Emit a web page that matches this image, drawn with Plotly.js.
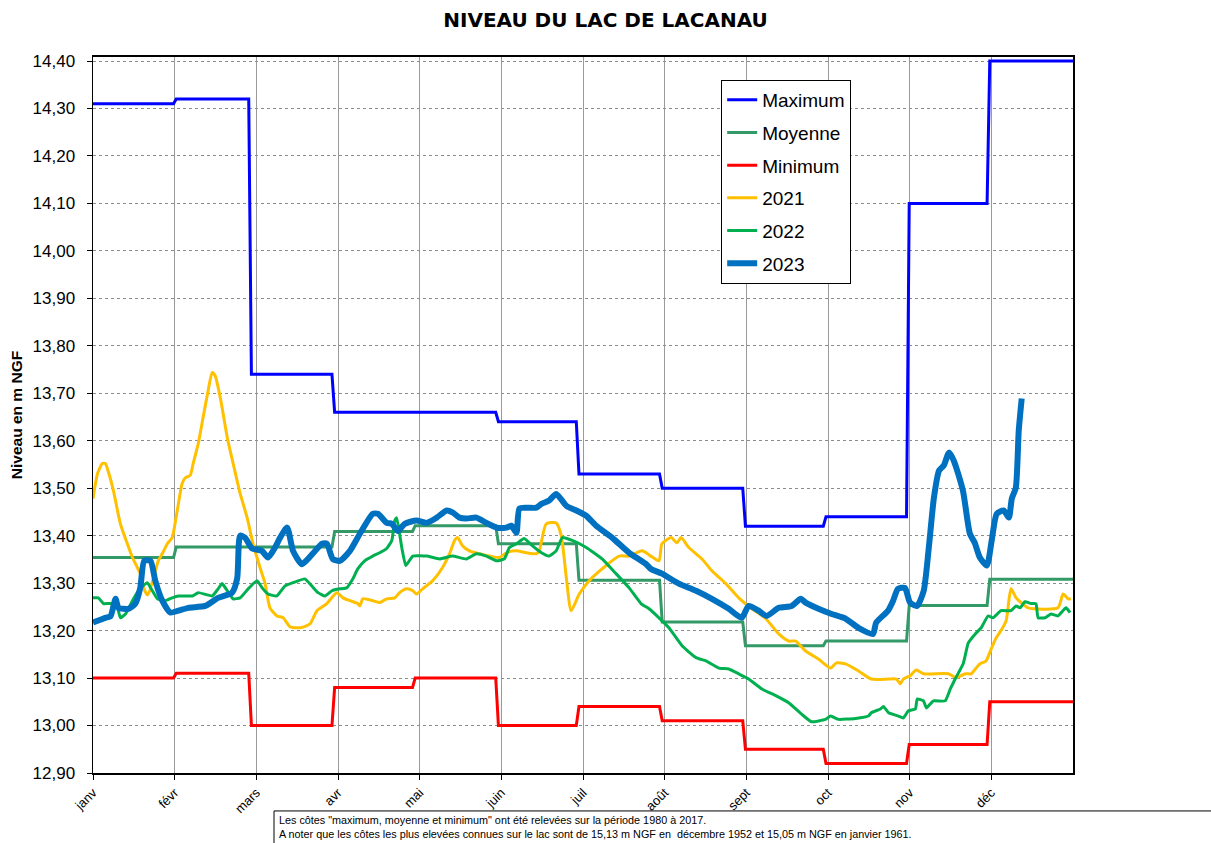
<!DOCTYPE html>
<html>
<head>
<meta charset="utf-8">
<script src="https://cdn.plot.ly/plotly-3.0.1.min.js"></script>
<style>html,body{margin:0;padding:0;background:#fff;}#chart{width:1211px;height:843px;}</style>
</head>
<body>
<div id="chart"></div>
<script>
// Month labels and month start days (day of year, 0-based)
const monthLabels = ["janv","févr","mars","avr","mai","juin","juil","août","sept","oct","nov","déc"];
const monthStarts = [0,31,59,90,120,151,181,212,243,273,304,334,365];

// Monthly reference levels 1980-2017 (m NGF)
const maximum = [14.31,14.32,13.74,13.66,13.66,13.64,13.53,13.50,13.42,13.44,14.10,14.40];
const moyenne = [13.354,13.376,13.376,13.409,13.421,13.383,13.306,13.218,13.168,13.178,13.253,13.308];
const minimum = [13.10,13.11,13.00,13.08,13.10,13.00,13.04,13.01,12.95,12.92,12.96,13.05];

// Yearly readings: day of year and level
const days2021 = [0,1.7,3.5,4.6,5.8,7.6,10.2,12.8,14.7,16.5,17.6,18.8,20.4,22.5,24.3,25.8,27.7,29.5,30.6,31.8,33.2,34.4,36.2,37.3,39.2,41,42.9,44.4,45.5,47.4,50,52.2,54.8,57.4,59.6,62.2,64.1,65.9,68.5,70.8,73.4,77.1,80.8,83.4,87.1,90.8,93.1,95.7,98.6,99.4,100.5,104.2,106.8,109.4,112.4,114.2,116.8,119.1,120.5,122.8,126.5,130.2,132.8,134.7,135.8,137.6,140.2,143.9,147.7,151.4,154,157.7,161.4,165.1,166.2,168.8,172.5,174.4,176.3,178.1,181.1,184.8,189.6,195.9,199.7,204.5,207.8,210.8,211.9,215.3,217.5,219,221.9,226.8,230.5,235.7,240.5,245.4,250.6,255.4,259.1,261.7,265.4,270.2,274.7,276.9,280.3,285.1,289.9,296.3,299.2,300.7,301.8,304.4,306.6,309.3,318.6,321.5,324.9,327.1,328.6,330.4,332.6,334.5,336.4,338.2,340.1,341.9,343.8,345.7,348.3,359.4,361.3,363.2,364.2];
const level2021 = [13.478,13.531,13.552,13.552,13.533,13.495,13.425,13.383,13.354,13.333,13.32,13.29,13.275,13.31,13.347,13.362,13.383,13.396,13.427,13.467,13.51,13.522,13.527,13.552,13.594,13.649,13.706,13.744,13.737,13.691,13.607,13.552,13.489,13.438,13.383,13.333,13.299,13.248,13.231,13.227,13.208,13.206,13.214,13.242,13.257,13.28,13.269,13.263,13.257,13.252,13.267,13.263,13.259,13.267,13.269,13.28,13.288,13.284,13.277,13.288,13.305,13.333,13.362,13.39,13.396,13.379,13.368,13.362,13.357,13.354,13.364,13.368,13.364,13.362,13.368,13.425,13.427,13.40,13.311,13.242,13.277,13.305,13.33,13.357,13.357,13.368,13.357,13.347,13.383,13.396,13.385,13.396,13.375,13.351,13.326,13.299,13.269,13.246,13.225,13.193,13.178,13.178,13.157,13.14,13.121,13.132,13.13,13.115,13.098,13.098,13.098,13.088,13.098,13.105,13.117,13.109,13.109,13.101,13.109,13.109,13.119,13.13,13.136,13.161,13.185,13.20,13.221,13.288,13.269,13.259,13.248,13.248,13.277,13.267,13.267];

const days2022 = [0,2,3.9,6.5,9.1,10.2,12.1,14.7,16.9,20.2,22.1,24,26.9,29.5,31.8,37,39.2,44.4,46.6,48.1,50,52.2,54.8,57.8,61.1,63,65.2,68.5,71.5,74.5,78.9,81.5,83.8,86.4,89,91.9,94.5,96.8,98.6,101.2,104.2,106.8,109.4,111.3,112.4,113.1,115,116.5,119.1,124.3,129.1,133.9,139.1,142.8,146.5,150.3,153.2,155.1,157.7,160.6,163.6,167,169.9,172.5,174.8,178.5,183.7,189.6,194.8,199.7,204.1,207.1,210.8,214.5,219.4,224.6,228.3,233.1,236.8,240.5,244.2,249.1,254.3,259.1,263.9,267.6,272.8,274.7,277.7,284,288.8,289.9,293.3,294.4,296.3,300,301.8,303.7,306.3,307,309.3,310.4,313,317.4,319.3,321.1,324.1,326,328.6,330.8,333.4,335.2,338.2,341.9,343.8,345.3,347.1,349.4,351.2,352,354.6,356.8,359.4,362.4,363.9];
const level2022 = [13.269,13.269,13.257,13.257,13.248,13.227,13.235,13.263,13.284,13.301,13.284,13.267,13.263,13.269,13.273,13.273,13.28,13.273,13.288,13.299,13.284,13.267,13.269,13.288,13.305,13.29,13.277,13.273,13.294,13.301,13.309,13.294,13.28,13.273,13.284,13.288,13.29,13.309,13.33,13.347,13.357,13.364,13.373,13.39,13.432,13.438,13.375,13.337,13.357,13.357,13.351,13.357,13.351,13.362,13.357,13.347,13.351,13.375,13.383,13.394,13.379,13.364,13.357,13.368,13.396,13.39,13.375,13.351,13.32,13.29,13.257,13.246,13.227,13.206,13.168,13.143,13.136,13.121,13.119,13.109,13.098,13.077,13.063,13.048,13.024,13.008,13.013,13.02,13.013,13.015,13.02,13.027,13.035,13.04,13.027,13.02,13.016,13.031,13.035,13.056,13.052,13.037,13.052,13.052,13.077,13.098,13.13,13.174,13.193,13.206,13.231,13.227,13.242,13.242,13.252,13.248,13.261,13.257,13.257,13.227,13.227,13.235,13.231,13.248,13.238];

const days2023 = [0,4.6,6.5,8.4,9.5,13.2,15.8,17.6,19.1,21.4,23.2,25.8,28.8,31.8,35.5,41.8,46.6,51.8,53.7,54.8,56.6,59.3,62.9,65.2,67.8,69.7,72.3,74.5,77.8,81.5,85.3,87.1,89.3,91.9,95.7,99.4,104.2,106.1,109.4,111.3,113.5,116.1,120.5,124.3,128,131.7,133.9,136.5,139.1,142.8,146.5,150.3,154,155.8,157.7,158.8,161.4,165.1,167,169.9,172.5,176.3,180,183.7,187.4,193.3,199.7,206,207.8,211.9,218.2,224.6,230.5,236.8,241.6,244.2,247.9,250.9,255.4,260.2,263.6,265.4,270.2,275.1,280.3,285.1,290.5,291.7,296.1,298,299.8,302.4,304.3,306.9,309.4,311.3,313.2,315.1,316.9,318.8,320.6,324,326.6,328.4,330.3,332.9,334.7,336.6,339.2,341.1,342.2,343.7,344.8,345.9];
const level2023 = [13.217,13.227,13.23,13.267,13.248,13.246,13.257,13.29,13.347,13.347,13.305,13.263,13.238,13.242,13.248,13.252,13.269,13.28,13.31,13.40,13.396,13.373,13.368,13.354,13.375,13.396,13.417,13.368,13.34,13.36,13.383,13.383,13.351,13.347,13.368,13.404,13.446,13.446,13.427,13.425,13.41,13.425,13.432,13.427,13.438,13.453,13.449,13.438,13.436,13.438,13.427,13.417,13.417,13.421,13.406,13.457,13.459,13.459,13.467,13.474,13.488,13.463,13.453,13.442,13.421,13.396,13.364,13.34,13.33,13.32,13.299,13.284,13.267,13.246,13.227,13.252,13.242,13.231,13.248,13.252,13.267,13.259,13.246,13.235,13.225,13.206,13.193,13.217,13.242,13.263,13.288,13.29,13.259,13.252,13.284,13.375,13.48,13.537,13.548,13.575,13.558,13.495,13.404,13.385,13.354,13.337,13.389,13.446,13.453,13.438,13.478,13.501,13.622,13.689];

const footnote1 = 'Les côtes "maximum, moyenne et minimum" ont été relevées sur la période 1980 à 2017.';
const footnote2 = 'A noter que les côtes les plus elevées connues sur le lac sont de 15,13 m NGF en  décembre 1952 et 15,05 m NGF en janvier 1961.';

// Expand monthly values into a stepped daily line
function stepSeries(vals) {
  const x = [], y = [];
  for (let m = 0; m < vals.length; m++) {
    const s = monthStarts[m];
    const e = (m === vals.length - 1) ? monthStarts[m + 1] : monthStarts[m + 1] - 1;
    x.push(s, e); y.push(vals[m], vals[m]);
  }
  return {x, y};
}

const mx = stepSeries(maximum), mo = stepSeries(moyenne), mi = stepSeries(minimum);
const FONT = "Liberation Sans, Arial, sans-serif";

const traces = [
  {x: mx.x, y: mx.y, name: "Maximum", legendgroup: "a", mode: "lines", line: {color: "#0000FF", width: 3}},
  {x: mo.x, y: mo.y, name: "Moyenne", legendgroup: "b", mode: "lines", line: {color: "#339966", width: 3}},
  {x: mi.x, y: mi.y, name: "Minimum", legendgroup: "c", mode: "lines", line: {color: "#FF0000", width: 3}},
  {x: days2021, y: level2021, name: "2021", legendgroup: "d", mode: "lines", line: {color: "#FFC000", width: 3, shape: "spline", smoothing: 0.6}},
  {x: days2022, y: level2022, name: "2022", legendgroup: "e", mode: "lines", line: {color: "#00B050", width: 3, shape: "spline", smoothing: 0.4}},
  {x: days2023, y: level2023, name: "2023", legendgroup: "f", mode: "lines", line: {color: "#0070C0", width: 6, shape: "spline", smoothing: 0.6}}
];

const tickvals = monthLabels.map((_, i) => i * 365 / 12);

const layout = {
  width: 1211, height: 843,
  paper_bgcolor: "#fff", plot_bgcolor: "#fff",
  separators: ", ",
  margin: {l: 93, r: 138, t: 57, b: 70, pad: 0},
  font: {family: FONT, color: "#000"},
  title: {text: "<b>NIVEAU DU LAC DE LACANAU</b>", x: 0.5, xref: "container", y: 0.976, yanchor: "middle",
          font: {family: "DejaVu Sans, sans-serif", size: 20, color: "#000"}},
  showlegend: true,
  legend: {x: 0.641, y: 0.968, xanchor: "left", yanchor: "top", bgcolor: "#fff", bordercolor: "#000", borderwidth: 1,
           font: {family: FONT, size: 19, color: "#000"}, tracegroupgap: 5, traceorder: "grouped"},
  xaxis: {range: [0, 365], tickmode: "array", tickvals: tickvals, ticktext: monthLabels, tickangle: -45,
          tickfont: {family: FONT, size: 13, color: "#000"}, ticks: "outside", ticklen: 5, tickcolor: "#000",
          showgrid: true, gridcolor: "#9a9a9a", gridwidth: 1, zeroline: false,
          showline: true, linecolor: "#000", linewidth: 2, mirror: true},
  yaxis: {range: [12.90, 14.4085], tickmode: "linear", tick0: 12.9, dtick: 0.1, tickformat: ".2f",
          tickfont: {family: FONT, size: 17, color: "#000"}, ticks: "outside", ticklen: 5, tickcolor: "#000",
          ticklabelstandoff: 8,
          showgrid: true, gridcolor: "#8c8c8c", gridwidth: 1, griddash: "dot", zeroline: false,
          showline: true, linecolor: "#000", linewidth: 1.5, mirror: true,
          title: {text: "<b>Niveau en m NGF</b>", font: {family: FONT, size: 15.5, color: "#000"}, standoff: 6}},
  shapes: [
    {type: "rect", xref: "paper", yref: "paper", x0: 0.1847, x1: 1.2, y0: -0.053, y1: -0.12,
     line: {color: "#000", width: 1}, fillcolor: "rgba(0,0,0,0)", layer: "above"}
  ],
  annotations: [
    {xref: "paper", yref: "paper", x: 0.1878, y: -0.0545, xanchor: "left", yanchor: "top", align: "left", showarrow: false,
     text: footnote1 + "<br>" + footnote2, font: {family: "Liberation Sans Narrow, Liberation Sans, Arial, sans-serif", size: 10.8, color: "#000"}}
  ]
};

Plotly.newPlot("chart", traces, layout, {displayModeBar: false, staticPlot: true});
</script>
</body>
</html>
